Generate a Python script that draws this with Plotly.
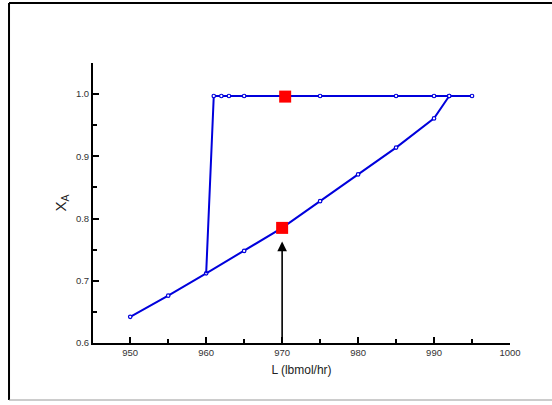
import plotly.graph_objects as go

# Lower (ignition) branch of the steady-state curve
L_low = [950, 955, 960, 965, 970, 975, 980, 985, 990, 992]
XA_low = [0.642, 0.676, 0.712, 0.748, 0.785, 0.828, 0.871, 0.914, 0.961, 0.997]

# Upper (high conversion) branch, ending where it drops back to the lower branch
L_up = [960, 961, 962, 963, 965, 970, 975, 985, 990, 992, 995]
XA_up = [0.712, 0.997, 0.997, 0.997, 0.997, 0.997, 0.997, 0.997, 0.997, 0.997, 0.997]
up_marker = [False, True, True, True, True, False, True, True, True, True, True]

# Highlighted operating points at L = 970
L_op = [970.4, 970]
XA_op = [0.996, 0.785]

# Arrow from the axis up to the lower operating point
arrow_L = 970
arrow_from, arrow_to = 0.6, 0.763

blue = "#0000DC"
dot = dict(symbol="circle", size=3.5, color="white", line=dict(color=blue, width=1.2))
fig = go.Figure()

fig.add_trace(go.Scatter(
    x=L_low, y=XA_low, mode="lines+markers",
    line=dict(color=blue, width=2), marker=dot, showlegend=False,
))
fig.add_trace(go.Scatter(
    x=L_up, y=XA_up, mode="lines",
    line=dict(color=blue, width=2), showlegend=False,
))
fig.add_trace(go.Scatter(
    x=[l for l, m in zip(L_up, up_marker) if m],
    y=[v for v, m in zip(XA_up, up_marker) if m],
    mode="markers", marker=dot, showlegend=False,
))
fig.add_trace(go.Scatter(
    x=L_op, y=XA_op, mode="markers",
    marker=dict(symbol="square", size=12, color="#FF0000", line=dict(width=0)),
    showlegend=False,
))

fig.add_annotation(
    x=arrow_L, y=arrow_to, ax=arrow_L, ay=arrow_from,
    xref="x", yref="y", axref="x", ayref="y",
    showarrow=True, arrowhead=2, arrowsize=1.2, arrowwidth=1.6, arrowcolor="black", text="",
)

tick_font = dict(family="Liberation Sans Narrow, Arial Narrow, Liberation Sans, Arial", size=9.5, color="#333")

fig.update_xaxes(
    range=[945.1, 1000], tick0=950, dtick=10,
    showline=True, linecolor="black", linewidth=2,
    ticks="inside", ticklen=6, tickwidth=2, tickcolor="black",
    minor=dict(ticks="inside", dtick=5, tick0=950, ticklen=4, tickwidth=2, tickcolor="black"),
    showgrid=False, zeroline=False, tickfont=tick_font,
    title=dict(text="L (lbmol/hr)", font=dict(family="Liberation Sans, Arial", size=12, color="#222"), standoff=8),
)
fig.update_yaxes(
    range=[0.6, 1.05], tick0=0.6, dtick=0.1, tickformat=".1f",
    showline=True, linecolor="black", linewidth=2,
    ticks="inside", ticklen=6, tickwidth=2, tickcolor="black",
    minor=dict(ticks="inside", dtick=0.05, tick0=0.6, ticklen=4, tickwidth=2, tickcolor="black"),
    showgrid=False, zeroline=False, tickfont=tick_font,
    title=dict(text="X<sub>A</sub>", font=dict(family="Liberation Sans, Arial", size=15, color="#222"), standoff=6),
)

# Outer frame around the figure
frame_left, frame_top, frame_bottom = -0.2014, 1.214, -0.2036
fig.add_shape(type="line", xref="paper", yref="paper", x0=frame_left, x1=frame_left,
              y0=frame_bottom, y1=frame_top, line=dict(color="black", width=2))
fig.add_shape(type="line", xref="paper", yref="paper", x0=frame_left, x1=1.2,
              y0=frame_top, y1=frame_top, line=dict(color="black", width=2))
fig.add_shape(type="line", xref="paper", yref="paper", x0=frame_left, x1=1.2,
              y0=frame_bottom, y1=frame_bottom, line=dict(color="#999", width=1))

fig.update_layout(
    width=552, height=405,
    margin=dict(l=93, r=42, t=63, b=62),
    plot_bgcolor="white", paper_bgcolor="white",
)

fig.write_html("out.html")
